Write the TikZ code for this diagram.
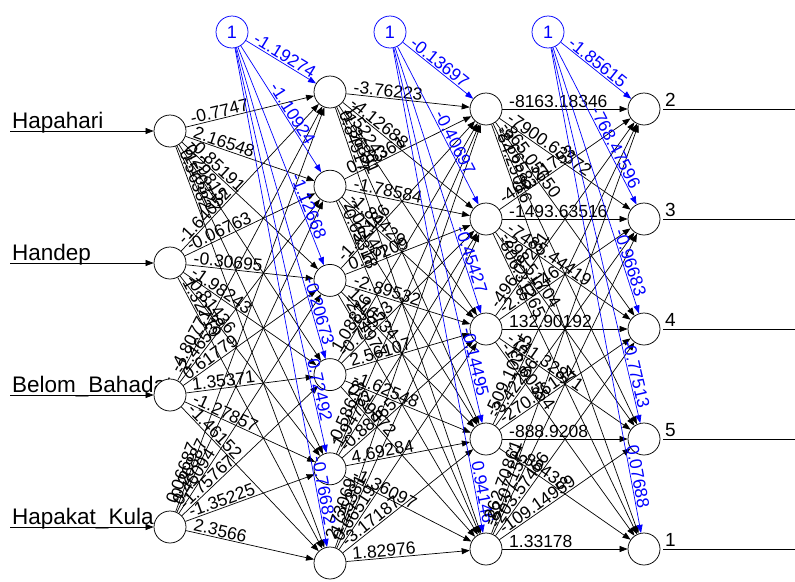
\documentclass[tikz,border=0pt]{standalone}
\usepackage{fontspec}
\setmainfont{Liberation Sans}
\usetikzlibrary{calc,arrows.meta}

% weighted synapse: arrow between two neurons, weight written near the source
\newcommand\syn[3]{%
  \draw[edge] (#1) -- (#2);
  \path ($(#1.center)!22pt!(#2.center)$) -- (#2.center)
    node[pos=0,sloped,anchor=south west,wlab] {#3};}
% bias synapse: blue arrow, weight placed at the given fraction of the line
\newcommand\bsyn[4]{%
  \draw[biasedge] (#1) -- (#2);
  \path ($(#1.center)!#4!(#2.center)$) -- (#2.center)
    node[pos=0,sloped,anchor=south west,blab] {#3};}

\begin{document}
\begin{tikzpicture}[x=1pt,y=-1pt,
  neuron/.style={circle,draw=black,fill=white,line width=0.75pt,minimum size=32pt,inner sep=0pt},
  biasnode/.style={neuron,draw=blue,text=blue,font=\fontsize{18}{18}\selectfont},
  edge/.style={draw=black,line width=0.7pt,-{Triangle[length=8pt,width=6pt]}},
  biasedge/.style={edge,draw=blue},
  wlab/.style={inner sep=1pt,font=\fontsize{17.5}{17.5}\selectfont},
  blab/.style={wlab,text=blue},
  inlab/.style={anchor=base west,inner sep=0pt,font=\fontsize{22.5}{22.5}\selectfont},
  outlab/.style={anchor=base west,inner sep=0pt,font=\fontsize{19}{19}\selectfont},
  plain/.style={draw=black,line width=0.7pt}]
\useasboundingbox (0,0) rectangle (795,581);

% input names (drawn first, the input neurons partly cover them)
\node[inlab] (t1) at (12,128.5) {Hapahari};
\node[inlab] (t2) at (12,260.5) {Handep};
\node[inlab] (t3) at (12,392.5) {Belom\_Bahadat};
\node[inlab] (t4) at (12,524.5) {Hapakat\_Kula};

% input layer
\node[neuron] (i1) at (170,131) {};
\node[neuron] (i2) at (170,263) {};
\node[neuron] (i3) at (170,395) {};
\node[neuron] (i4) at (170,527) {};
% first hidden layer
\node[neuron] (h1) at (330,92) {};
\node[neuron] (h2) at (330,186.2) {};
\node[neuron] (h3) at (330,280.4) {};
\node[neuron] (h4) at (330,374.6) {};
\node[neuron] (h5) at (330,468.8) {};
\node[neuron] (h6) at (330,563) {};
% second hidden layer
\node[neuron] (g1) at (486,109) {};
\node[neuron] (g2) at (486,219) {};
\node[neuron] (g3) at (486,329) {};
\node[neuron] (g4) at (486,439) {};
\node[neuron] (g5) at (486,549) {};
% output layer
\node[neuron] (o1) at (644,109) {};
\node[neuron] (o2) at (644,219) {};
\node[neuron] (o3) at (644,329) {};
\node[neuron] (o4) at (644,439) {};
\node[neuron] (o5) at (644,549) {};
% bias neurons
\node[biasnode] (b1) at (232,32) {1};
\node[biasnode] (b2) at (390,32) {1};
\node[biasnode] (b3) at (548,32) {1};

% input arrows
\coordinate (s1) at (10,131);
\coordinate (s2) at (10,263);
\coordinate (s3) at (10,395);
\coordinate (s4) at (10,527);
\foreach \k in {1,...,4} \draw[edge] (s\k) -- (i\k);

% output lines and labels
\foreach \k/\y/\t in {1/109/2,2/219/3,3/329/4,4/439/5,5/549/1}{
  \coordinate (e\k) at (795,\y);
  \draw[plain,shorten <=3pt] (o\k) -- (e\k);
  \node[outlab] (ol\k) at (665,\y-3) {\t};
}

% inputs -> first hidden layer
\syn{i1}{h1}{-0.7747}   \syn{i1}{h2}{2.16548}   \syn{i1}{h3}{-0.85191}
\syn{i1}{h4}{0.29815}   \syn{i1}{h5}{-1.10327}  \syn{i1}{h6}{0.56382}
\syn{i2}{h1}{-1.64052}  \syn{i2}{h2}{-0.06763}  \syn{i2}{h3}{-0.30695}
\syn{i2}{h4}{-1.98243}  \syn{i2}{h5}{-0.81436}  \syn{i2}{h6}{1.32719}
\syn{i3}{h1}{-4.80771}  \syn{i3}{h2}{-2.46538}  \syn{i3}{h3}{0.61779}
\syn{i3}{h4}{1.35371}   \syn{i3}{h5}{-1.27857}  \syn{i3}{h6}{-1.46152}
\syn{i4}{h1}{0.06687}   \syn{i4}{h2}{-0.26887}  \syn{i4}{h3}{0.46094}
\syn{i4}{h4}{-1.75767}  \syn{i4}{h5}{-1.35225}  \syn{i4}{h6}{2.3566}
\bsyn{b1}{h1}{-1.19274}{0.19} \bsyn{b1}{h2}{-1.10924}{0.36}
\bsyn{b1}{h3}{-1.12668}{0.58} \bsyn{b1}{h4}{-0.20673}{0.72}
\bsyn{b1}{h5}{0.72492}{0.75}  \bsyn{b1}{h6}{-0.76682}{0.80}

% first hidden -> second hidden layer
\syn{h1}{g1}{-3.76223}  \syn{h1}{g2}{-4.12688}  \syn{h1}{g3}{1.52243}
\syn{h1}{g4}{-1.36891}  \syn{h1}{g5}{0.84517}
\syn{h2}{g1}{0.93361}   \syn{h2}{g2}{-1.78584}  \syn{h2}{g3}{-1.84429}
\syn{h2}{g4}{2.07145}   \syn{h2}{g5}{-0.65318}
\syn{h3}{g1}{-1.42186}  \syn{h3}{g2}{0.57209}   \syn{h3}{g3}{-2.89532}
\syn{h3}{g4}{1.16734}   \syn{h3}{g5}{-2.31977}
\syn{h4}{g1}{1.08826}   \syn{h4}{g2}{-0.74953}  \syn{h4}{g3}{2.56107}
\syn{h4}{g4}{-1.62548}  \syn{h4}{g5}{0.39872}
\syn{h5}{g1}{-0.58613}  \syn{h5}{g2}{1.94722}   \syn{h5}{g3}{-0.88465}
\syn{h5}{g4}{4.69284}   \syn{h5}{g5}{-1.36097}
\syn{h6}{g1}{2.73069}   \syn{h6}{g2}{-1.25381}  \syn{h6}{g3}{0.66519}
\syn{h6}{g4}{-3.17187}  \syn{h6}{g5}{1.82976}
\bsyn{b2}{g1}{-0.13697}{0.18} \bsyn{b2}{g2}{-0.40697}{0.44}
\bsyn{b2}{g3}{-0.45427}{0.66} \bsyn{b2}{g4}{-0.14495}{0.73}
\bsyn{b2}{g5}{0.94146}{0.83}

% second hidden -> output layer
\syn{g1}{o1}{-8163.18346} \syn{g1}{o2}{-7900.63572} \syn{g1}{o3}{-865.05650}
\syn{g1}{o4}{-2.66583}    \syn{g1}{o5}{-84.25016}
\syn{g2}{o1}{-466.21753}  \syn{g2}{o2}{-1493.63516} \syn{g2}{o3}{-7485.44419}
\syn{g2}{o4}{-298.51704}  \syn{g2}{o5}{-806.31265}
\syn{g3}{o1}{-496.07231}  \syn{g3}{o2}{-2.80546}    \syn{g3}{o3}{132.90192}
\syn{g3}{o4}{-741.32871}  \syn{g3}{o5}{-12.60554}
\syn{g4}{o1}{-509.10355}  \syn{g4}{o2}{-3.42286}    \syn{g4}{o3}{-270.86134}
\syn{g4}{o4}{-888.9208}   \syn{g4}{o5}{-1.88438}
\syn{g5}{o1}{-262.70861}  \syn{g5}{o2}{-82.07155}   \syn{g5}{o3}{-203.57466}
\syn{g5}{o4}{-109.14959}  \syn{g5}{o5}{1.33178}
\bsyn{b3}{o1}{-1.85615}{0.18}  \bsyn{b3}{o2}{-768.47596}{0.42}
\bsyn{b3}{o3}{-0.96683}{0.67}  \bsyn{b3}{o4}{-0.77513}{0.76}
\bsyn{b3}{o5}{0.07688}{0.80}
\end{tikzpicture}
\end{document}
